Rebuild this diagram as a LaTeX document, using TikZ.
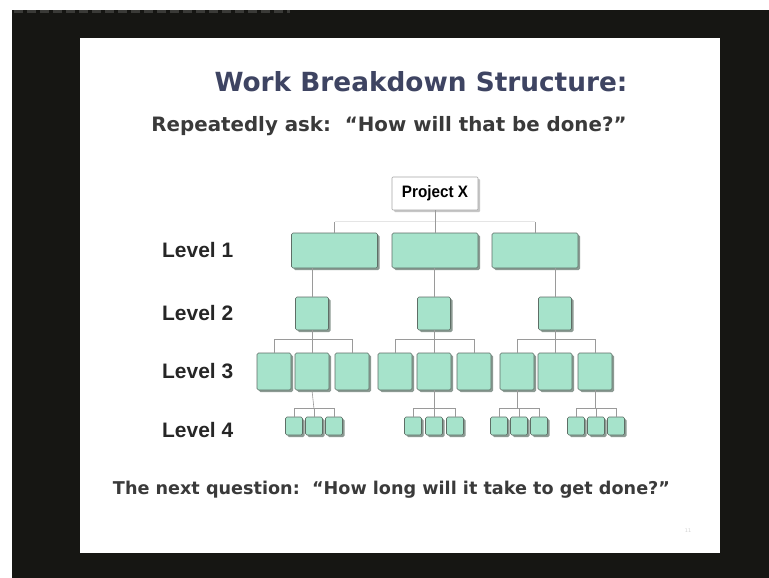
\documentclass[tikz,border=0pt]{standalone}
\usepackage{fontspec}
\setmainfont{DejaVu Sans}
\newfontfamily\lblfont{Liberation Sans}
\usetikzlibrary{shadows}

\definecolor{screen}{HTML}{161613}
\definecolor{screenedge}{HTML}{3A3A37}
\definecolor{mint}{HTML}{A6E3CB}
\definecolor{boxedge}{HTML}{5E6E66}
\definecolor{boxshadow}{HTML}{8C9A93}
\definecolor{titleblue}{HTML}{3E4462}
\definecolor{bodytext}{HTML}{3A3A3A}
\definecolor{linkgray}{HTML}{9A9A9A}

% scale a piece of text to an exact width
\newcommand{\fitto}[2]{\resizebox{#1}{!}{#2}}

\tikzset{
  wbsbox/.style={draw=boxedge, fill=mint, line width=0.6pt, rounded corners=1.5pt,
    inner sep=0pt, drop shadow={shadow xshift=2pt, shadow yshift=-2pt, fill=boxshadow, opacity=1}},
  lone/.style={wbsbox, minimum width=86pt, minimum height=35pt},
  ltwo/.style={wbsbox, minimum width=33pt, minimum height=33pt},
  lthree/.style={wbsbox, minimum width=34pt, minimum height=37pt},
  lfour/.style={wbsbox, minimum width=17pt, minimum height=18pt},
  rootbox/.style={draw=gray!70, fill=white, line width=0.6pt, rounded corners=1pt,
    inner sep=0pt, minimum width=86pt, minimum height=33pt,
    drop shadow={shadow xshift=2pt, shadow yshift=-2pt, fill=gray!45, opacity=1}},
  link/.style={draw=linkgray, line width=0.6pt},
  faintlink/.style={draw=gray!20, line width=0.6pt},
  lvl/.style={anchor=west, inner sep=0pt, text=black!85, font=\lblfont\bfseries},
  heading/.style={inner sep=0pt, font=\bfseries},
}

\begin{document}
\begin{tikzpicture}[x=1pt, y=-1pt]
  \useasboundingbox (0,0) rectangle (769,578);

  % projection screen and slide
  \fill[white] (0,0) rectangle (769,578);
  \fill[screen] (12,10) rectangle (769,578);
  \draw[screenedge, line width=3pt, dash pattern=on 9pt off 4pt] (14,12) -- (290,12);
  \fill[white] (80,38) rectangle (720,553);

  % headings
  \node[heading, text=titleblue] (title) at (421,82) {\fitto{413pt}{Work Breakdown Structure:}};
  \node[heading, text=bodytext] (sub) at (389,126) {\fitto{475pt}{Repeatedly ask:\ \ “How will that be done?”}};

  % level labels
  \node[lvl] (lab1) at (162,250) {\fitto{71pt}{Level 1}};
  \node[lvl] (lab2) at (162,313) {\fitto{71pt}{Level 2}};
  \node[lvl] (lab3) at (162,371) {\fitto{71pt}{Level 3}};
  \node[lvl] (lab4) at (162,430) {\fitto{71pt}{Level 4}};

  % root
  \node[rootbox] (root) at (435,193.5) {\resizebox{66pt}{12pt}{\lblfont\bfseries Project X}};

  % level 1
  \node[lone] (a) at (334.5,250.5) {};
  \node[lone] (b) at (435,250.5) {};
  \node[lone] (c) at (535,250.5) {};

  % level 2
  \node[ltwo] (a2) at (312,313.5) {};
  \node[ltwo] (b2) at (434,313.5) {};
  \node[ltwo] (c2) at (555,313.5) {};

  % level 3
  \node[lthree] (a31) at (274,371.5) {};
  \node[lthree] (a32) at (312,371.5) {};
  \node[lthree] (a33) at (352,371.5) {};
  \node[lthree] (b31) at (395,371.5) {};
  \node[lthree] (b32) at (434,371.5) {};
  \node[lthree] (b33) at (474,371.5) {};
  \node[lthree] (c31) at (517,371.5) {};
  \node[lthree] (c32) at (555,371.5) {};
  \node[lthree] (c33) at (595,371.5) {};

  % level 4
  \node[lfour] (p1) at (294,426) {};
  \node[lfour] (p2) at (314,426) {};
  \node[lfour] (p3) at (334,426) {};
  \node[lfour] (q1) at (413,426) {};
  \node[lfour] (q2) at (434,426) {};
  \node[lfour] (q3) at (455,426) {};
  \node[lfour] (r1) at (499,426) {};
  \node[lfour] (r2) at (519,426) {};
  \node[lfour] (r3) at (539,426) {};
  \node[lfour] (s1) at (576,426) {};
  \node[lfour] (s2) at (596,426) {};
  \node[lfour] (s3) at (616,426) {};

  % root to level 1 (the bus between the ticks is barely visible)
  \coordinate (busL) at ([yshift=11pt]a.north);
  \coordinate (busR) at ([yshift=11pt]c.north);
  \draw[faintlink] (busL) -- (busR);
  \draw[link] (root.south) -- (b.north);
  \draw[link] (a.north) -- (busL);
  \draw[link] (c.north) -- (busR);

  % level 1 to level 2
  \draw[link] (a2.north) -- (a2.north |- a.south);
  \draw[link] (b2.north) -- (b2.north |- b.south);
  \draw[link] (c2.north) -- (c2.north |- c.south);

  % level 2 to level 3
  \foreach \g in {a,b,c}{
    \draw[link] (\g2.south) -- (\g32.north);
    \draw[link] (\g31.north) -- ++(0,-13) -| (\g33.north);
  }

  % level 3 to level 4
  \draw[link] (a32.south) -- (p2.north |- 0,409);
  \draw[link] (p1.north) -- ++(0,-8) -| (p3.north);
  \draw[link] (p2.north) -- ++(0,-8);
  \draw[link] (b32.south) -- (q2.north |- 0,409);
  \draw[link] (q1.north) -- ++(0,-8) -| (q3.north);
  \draw[link] (q2.north) -- ++(0,-8);
  \draw[link] (c31.south) -- (c31.south |- 0,409);
  \draw[link] (r1.north) -- ++(0,-8) -| (r3.north);
  \draw[link] (r2.north) -- ++(0,-8);
  \draw[link] (c33.south) -- (c33.south |- 0,409);
  \draw[link] (s1.north) -- ++(0,-8) -| (s3.north);
  \draw[link] (s2.north) -- ++(0,-8);

  % closing question and slide number
  \node[heading, text=bodytext] (next) at (391.5,490) {\fitto{557pt}{The next question:\ \ “How long will it take to get done?”}};
  \node[inner sep=0pt, text=gray!35, font=\tiny] (pg) at (688,531) {11};
\end{tikzpicture}
\end{document}
